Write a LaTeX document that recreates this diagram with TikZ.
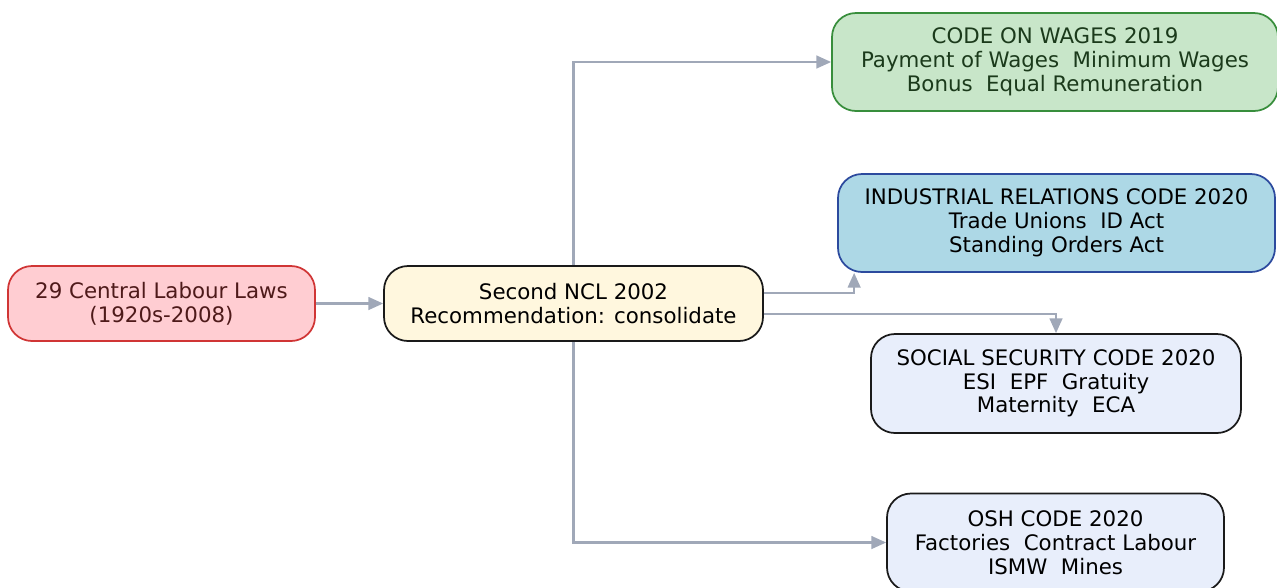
\documentclass[tikz,border=0pt]{standalone}
\usepackage{fontspec}
\setmainfont{DejaVu Sans}
\usetikzlibrary{arrows.meta}
\definecolor{edgegray}{HTML}{A0A8B8}
\definecolor{pinkfill}{HTML}{FFCDD2}
\definecolor{pinkline}{HTML}{D03535}
\definecolor{pinktext}{HTML}{4E1A1A}
\definecolor{creamfill}{HTML}{FFF7DE}
\definecolor{greenfill}{HTML}{C8E6C9}
\definecolor{greenline}{HTML}{388E3C}
\definecolor{greentext}{HTML}{1B3A1B}
\definecolor{bluefill}{HTML}{ADD8E6}
\definecolor{blueline}{HTML}{2C4A9E}
\definecolor{palefill}{HTML}{E8EEFB}
\definecolor{darkline}{HTML}{1A1A1A}
\tikzset{
  box/.style={draw, rectangle, rounded corners=18pt, line width=1.3pt,
    inner sep=0pt, align=center,
    font=\fontsize{16}{17.8}\selectfont},
  edge/.style={draw=edgegray, line width=1.6pt,
    -{Triangle[length=11pt,width=9.5pt]}}
}
\begin{document}
\begin{tikzpicture}[x=0.75pt,y=-0.75pt]
\useasboundingbox (0,0) rectangle (1277,587);

\node[box, fill=pinkfill, draw=pinkline, text=pinktext,
  minimum width=230.25pt, minimum height=56.25pt] (laws) at (161.5,303.5)
  {29 Central Labour Laws\\(1920s-2008)};
\node[box, fill=creamfill, draw=darkline,
  minimum width=284.25pt, minimum height=56.25pt] (ncl) at (573.5,303.5)
  {Second NCL 2002\\Recommendation: consolidate};
\node[box, fill=greenfill, draw=greenline, text=greentext,
  minimum width=334.5pt, minimum height=73.5pt] (wages) at (1055,62)
  {CODE ON WAGES 2019\\Payment of Wages\ \ Minimum Wages\\Bonus\ \ Equal Remuneration};
\node[box, fill=bluefill, draw=blueline,
  minimum width=327.75pt, minimum height=73.5pt] (ir) at (1056.5,223)
  {INDUSTRIAL RELATIONS CODE 2020\\Trade Unions\ \ ID Act\\Standing Orders Act};
\node[box, fill=palefill, draw=darkline,
  minimum width=277.5pt, minimum height=74.25pt] (ss) at (1056,383.5)
  {SOCIAL SECURITY CODE 2020\\ESI\ \ EPF\ \ Gratuity\\Maternity\ \ ECA};
\node[box, fill=palefill, draw=darkline,
  minimum width=252.75pt, minimum height=73.5pt] (osh) at (1055.5,542.5)
  {OSH CODE 2020\\Factories\ \ Contract Labour\\ISMW\ \ Mines};

\draw[edge] (laws) -- (ncl);
\draw[edge] (ncl.north) |- (wages.west);
\draw[edge] ([yshift=7.9pt]ncl.east) -| ([xshift=12.75pt]ir.south west);
\draw[edge] ([yshift=-7.9pt]ncl.east) -| (ss.north);
\draw[edge] (ncl.south) |- (osh.west);
\end{tikzpicture}
\end{document}
